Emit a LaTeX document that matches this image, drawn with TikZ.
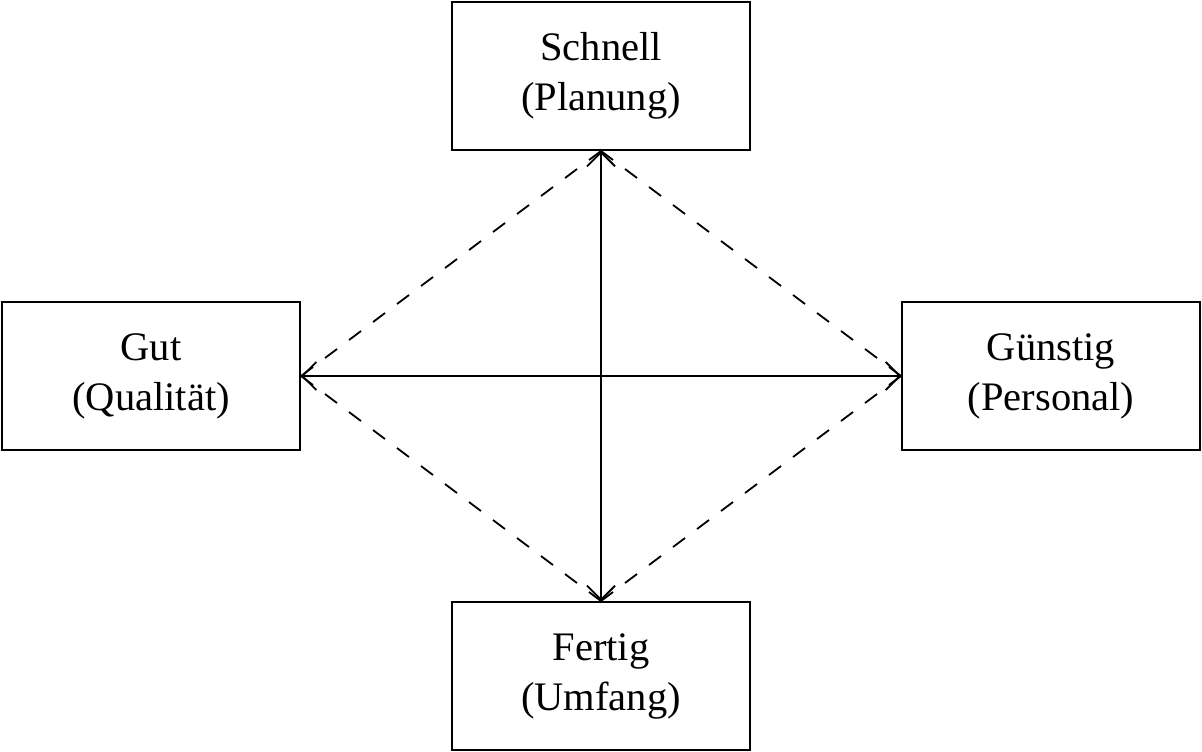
\documentclass[tikz,border=0pt]{standalone}
\usepackage{fontspec}
\setmainfont{Liberation Serif}
\usetikzlibrary{arrows.meta}
\begin{document}
\begin{tikzpicture}[x=1pt,y=-1pt,
  box/.style={draw,line width=2pt,minimum width=298pt,minimum height=148pt,inner sep=0pt,align=center,font=\fontsize{40.5}{50}\selectfont},
  tip/.tip={Straight Barb[length=14pt,width=28pt,line width=1.8pt]},
  link/.style={line width=1.8pt,tip-tip},
  dlink/.style={line width=1.8pt,dash pattern=on 15pt off 15pt}]
\useasboundingbox (0,0) rectangle (1202,752);
\node[box] (s) at (601,76) {Schnell\\(Planung)};
\node[box] (g) at (151,376) {Gut\\(Qualität)};
\node[box] (p) at (1051,376) {Günstig\\(Personal)};
\node[box] (f) at (601,676) {Fertig\\(Umfang)};
\draw[link] (s.south) -- (f.north);
\draw[link] (g.east) -- (p.west);
\draw[dlink] (s.south) -- (g.east);
\draw[dlink] (s.south) -- (p.west);
\draw[dlink] (f.north) -- (g.east);
\draw[dlink] (f.north) -- (p.west);
\end{tikzpicture}
\end{document}
